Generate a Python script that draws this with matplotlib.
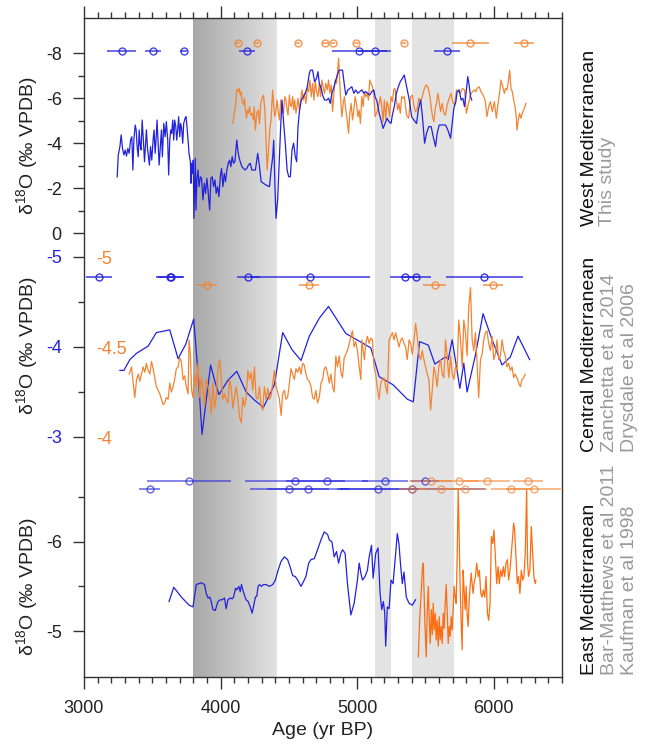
import numpy as np
import matplotlib
matplotlib.use("Agg")
import matplotlib.pyplot as plt
from matplotlib.colors import LinearSegmentedColormap
from matplotlib.ticker import MultipleLocator, FixedLocator, FuncFormatter

plt.rcParams['font.family'] = ['Liberation Sans', 'DejaVu Sans']
plt.rcParams['mathtext.fontset'] = 'custom'
plt.rcParams['mathtext.rm'] = 'Liberation Sans'
plt.rcParams['mathtext.it'] = 'Liberation Sans:italic'
plt.rcParams['axes.unicode_minus'] = False

# ---------------- data (age yr BP, d18O) ----------------
west_blue = [
 (3243,-2.50),(3251,-3.47),(3263,-3.84),(3272,-4.36),(3282,-3.76),(3292,-3.47),(3302,-3.69),(3311,-3.42),
 (3321,-3.76),(3331,-3.54),(3341,-4.13),(3350,-4.28),(3358,-2.80),(3365,-4.13),(3375,-4.80),(3382,-4.58),
 (3389,-3.84),(3397,-3.39),(3404,-4.58),(3411,-3.91),(3418,-3.69),(3426,-5.02),(3436,-3.99),(3443,-3.17),
 (3450,-3.84),(3457,-4.58),(3465,-3.76),(3472,-3.39),(3479,-3.02),(3487,-3.84),(3496,-3.24),(3506,-4.13),
 (3513,-4.58),(3521,-3.54),(3528,-4.21),(3535,-5.02),(3543,-3.99),(3550,-3.02),(3557,-3.69),(3567,-4.58),
 (3574,-3.39),(3584,-4.87),(3594,-4.28),(3603,-4.95),(3613,-4.13),(3620,-2.58),(3628,-4.13),(3635,-4.58),
 (3642,-4.43),(3650,-5.02),(3657,-4.13),(3664,-5.02),(3672,-4.73),(3679,-4.13),(3686,-4.58),(3693,-5.17),
 (3701,-4.28),(3708,-4.87),(3715,-4.65),(3723,-3.99),(3730,-4.87),(3740,-5.10),(3747,-5.17),(3754,-4.73),
 (3762,-4.13),(3769,-3.54),(3779,-3.17),(3783,-2.21),(3788,-3.10),(3796,-2.65),(3800,-3.24),(3805,-0.65),
 (3810,-2.06),(3815,-3.32),(3820,-1.02),(3827,-2.43),(3835,-2.80),(3842,-2.06),(3852,-2.50),(3861,-2.43),
 (3871,-1.47),(3881,-2.21),(3890,-1.76),(3900,-2.43),(3908,-1.91),(3920,-1.02),(3929,-2.43),(3939,-2.50),
 (3949,-2.06),(3959,-2.36),(3968,-1.76),(3978,-2.06),(3988,-1.62),(3998,-2.50),(4007,-2.87),(4017,-2.06),
 (4027,-2.65),(4036,-2.28),(4046,-2.80),(4056,-3.10),(4066,-3.24),(4075,-2.95),(4085,-3.39),(4095,-3.10),
 (4105,-3.17),(4114,-3.84),(4119,-4.13),(4126,-3.69),(4134,-3.39),(4144,-3.17),(4156,-2.95),(4168,-2.87),
 (4180,-2.80),(4192,-2.87),(4204,-3.02),(4217,-3.10),(4229,-2.80),(4241,-2.80),(4255,-2.80),(4272,-3.54),
 (4285,-2.95),(4297,-2.28),(4314,-2.21),(4333,-2.13),(4358,-2.06),(4370,-2.80),(4382,-3.39),(4389,-4.13),
 (4399,-1.91),(4406,-0.65),(4418,-1.47),(4431,-3.39),(4440,-4.73),(4450,-5.91),(4462,-4.87),(4474,-3.99),
 (4487,-2.80),(4499,-2.50),(4511,-2.50),(4523,-3.69),(4535,-3.99),(4547,-3.39),(4557,-3.17),(4567,-4.73),
 (4577,-5.39),(4591,-5.91),(4606,-6.06),(4620,-6.21),(4635,-6.50),(4650,-7.10),(4659,-7.24),(4674,-7.24),
 (4688,-6.73),(4703,-6.87),(4713,-7.17),(4723,-6.65),(4737,-6.43),(4747,-6.13),(4761,-5.91),(4776,-5.91),
 (4791,-5.99),(4803,-5.76),(4815,-6.21),(4827,-6.43),(4844,-6.80),(4859,-7.10),(4869,-7.24),(4893,-7.24),
 (4905,-6.65),(4917,-6.13),(4932,-6.36),(4946,-6.43),(4961,-6.50),(4976,-6.21),(4990,-6.36),(5005,-6.21),
 (5019,-6.28),(5034,-6.36),(5049,-6.21),(5063,-6.28),(5078,-6.21),(5092,-6.13),(5107,-6.28),(5122,-6.36),
 (5131,-6.06),(5146,-5.84),(5161,-5.32),(5175,-5.02),(5190,-4.65),(5204,-4.87),(5219,-5.10),(5233,-4.95),
 (5248,-4.87),(5258,-5.24),(5272,-5.62),(5287,-6.21),(5302,-6.50),(5316,-6.73),(5331,-6.87),(5345,-7.02),
 (5382,-5.91),(5399,-5.17),(5416,-5.02),(5435,-4.87),(5448,-5.47),(5465,-5.91),(5477,-5.24),(5494,-3.99),
 (5508,-4.43),(5525,-4.73),(5542,-4.73),(5557,-4.28),(5574,-3.84),(5586,-4.43),(5601,-4.80),(5623,-4.80),
 (5647,-4.80),(5664,-4.58),(5684,-4.21),(5696,-4.87),(5708,-5.54),(5723,-5.84),(5732,-6.28),(5747,-6.36),
 (5761,-5.91),(5774,-5.99),(5786,-5.62),(5796,-6.13),(5810,-6.95),(5820,-6.58),(5830,-6.06),(5839,-5.91)]

west_orange = [
 (4090,-4.87),(4100,-5.32),(4109,-5.62),(4119,-6.39),(4126,-6.28),(4136,-6.43),(4144,-6.13),(4151,-6.28),
 (4158,-5.84),(4168,-5.69),(4175,-5.99),(4182,-5.47),(4190,-5.10),(4197,-5.47),(4204,-5.32),(4212,-5.62),
 (4221,-5.24),(4231,-5.32),(4241,-5.02),(4246,-5.62),(4255,-4.58),(4265,-5.32),(4275,-5.47),(4285,-4.87),
 (4294,-5.76),(4304,-5.99),(4314,-6.13),(4324,-5.47),(4333,-4.13),(4341,-2.80),(4348,-3.39),(4355,-4.13),
 (4362,-4.73),(4370,-5.02),(4377,-5.91),(4382,-6.36),(4389,-5.62),(4397,-5.17),(4406,-5.47),(4414,-5.91),
 (4423,-5.32),(4431,-5.02),(4440,-5.91),(4450,-5.47),(4460,-5.32),(4470,-6.06),(4479,-5.91),(4487,-5.47),
 (4494,-5.24),(4504,-6.13),(4511,-5.69),(4518,-5.62),(4528,-6.06),(4535,-5.47),(4543,-5.91),(4552,-5.32),
 (4560,-5.62),(4567,-5.99),(4577,-5.47),(4586,-5.91),(4596,-6.36),(4606,-5.91),(4615,-6.21),(4625,-5.76),
 (4635,-6.43),(4645,-6.28),(4654,-6.80),(4664,-6.06),(4674,-6.65),(4684,-5.91),(4693,-6.80),(4703,-6.28),
 (4713,-6.06),(4723,-6.65),(4732,-6.06),(4742,-6.80),(4752,-6.43),(4761,-6.21),(4771,-6.65),(4781,-6.36),
 (4791,-6.80),(4800,-6.21),(4810,-6.58),(4820,-5.39),(4830,-6.21),(4839,-6.80),(4849,-6.65),(4856,-7.10),
 (4864,-7.76),(4871,-6.87),(4878,-6.06),(4888,-5.17),(4898,-5.76),(4907,-6.06),(4917,-5.47),(4927,-5.02),
 (4937,-4.43),(4946,-5.32),(4956,-5.76),(4966,-5.02),(4976,-5.47),(4985,-6.06),(4995,-5.76),(5005,-5.17),
 (5014,-5.47),(5024,-4.87),(5034,-6.06),(5044,-5.62),(5053,-6.28),(5063,-6.06),(5073,-6.21),(5083,-5.91),
 (5092,-6.80),(5102,-6.65),(5112,-6.50),(5122,-6.21),(5131,-5.17),(5141,-5.32),(5151,-5.47),(5161,-5.76),
 (5170,-6.06),(5180,-5.62),(5190,-4.95),(5199,-5.91),(5209,-5.06),(5219,-5.84),(5229,-5.62),(5238,-5.17),
 (5248,-6.06),(5258,-5.84),(5268,-6.36),(5277,-6.43),(5287,-5.91),(5297,-5.47),(5306,-5.76),(5316,-5.32),
 (5326,-6.06),(5336,-5.99),(5345,-6.06),(5362,-5.24),(5377,-5.10),(5392,-6.06),(5404,-6.13),(5416,-5.62),
 (5428,-5.39),(5440,-5.54),(5452,-5.99),(5465,-5.84),(5477,-6.06),(5489,-6.36),(5504,-6.58),(5518,-6.50),
 (5533,-6.06),(5543,-5.54),(5552,-5.17),(5562,-4.95),(5572,-5.54),(5581,-5.76),(5591,-6.21),(5601,-5.84),
 (5611,-5.39),(5623,-5.76),(5635,-5.32),(5647,-5.24),(5659,-5.69),(5674,-5.99),(5688,-6.21),(5698,-5.84),
 (5713,-5.69),(5727,-6.36),(5742,-6.28),(5757,-6.21),(5771,-6.43),(5786,-6.36),(5800,-5.32),(5815,-5.76),
 (5830,-6.13),(5844,-6.28),(5859,-6.36),(5869,-6.28),(5878,-6.43),(5893,-6.50),(5907,-6.28),(5922,-6.13),
 (5937,-5.91),(5951,-5.17),(5963,-5.62),(5976,-5.84),(5990,-5.39),(6005,-5.84),(6019,-5.10),(6029,-5.62),
 (6044,-6.28),(6053,-6.80),(6063,-6.58),(6078,-6.21),(6087,-6.43),(6097,-6.36),(6107,-6.73),(6117,-7.24),
 (6126,-6.43),(6136,-6.28),(6146,-5.91),(6156,-5.62),(6165,-5.17),(6170,-4.58),(6180,-5.02),(6190,-5.32),
 (6199,-5.10),(6209,-5.32),(6219,-5.47),(6229,-5.62),(6236,-5.76)]

central_blue = [
 (3263,-3.74),(3292,-3.74),(3336,-3.86),(3385,-3.93),(3470,-4.01),(3530,-4.16),(3628,-4.19),(3689,-3.87),
 (3745,-4.03),(3803,-4.31),(3835,-3.71),(3864,-3.03),(3895,-3.41),(3927,-3.80),(3956,-3.63),(3988,-3.47),
 (4054,-3.63),(4119,-3.73),(4187,-3.50),(4248,-3.41),(4314,-3.33),(4394,-3.58),(4455,-4.16),(4523,-3.97),
 (4589,-3.85),(4650,-4.12),(4723,-4.32),(4790,-4.45),(4917,-4.15),(5100,-3.99),(5161,-3.67),(5263,-3.58),
 (5367,-3.42),(5411,-3.39),(5457,-4.06),(5521,-4.02),(5569,-3.81),(5647,-3.89),(5667,-3.86),(5696,-4.08),
 (5752,-3.54),(5781,-3.82),(5805,-3.50),(5866,-3.91),(5922,-4.37),(5988,-4.08),(6061,-3.80),(6122,-3.89),
 (6178,-4.12),(6263,-3.86)]

central_orange = [
 (3331,-4.35),(3348,-4.39),(3360,-4.30),(3372,-4.22),(3385,-4.32),(3397,-4.35),(3409,-4.31),(3421,-4.35),
 (3433,-4.39),(3445,-4.36),(3457,-4.41),(3470,-4.37),(3482,-4.35),(3494,-4.42),(3506,-4.38),(3518,-4.33),
 (3530,-4.28),(3543,-4.26),(3555,-4.24),(3567,-4.21),(3579,-4.18),(3591,-4.19),(3603,-4.22),(3616,-4.21),
 (3628,-4.30),(3640,-4.25),(3652,-4.28),(3664,-4.32),(3676,-4.38),(3689,-4.39),(3701,-4.44),(3713,-4.42),
 (3725,-4.32),(3737,-4.34),(3749,-4.28),(3762,-4.24),(3769,-4.54),(3779,-4.46),(3788,-4.26),(3798,-4.22),
 (3810,-4.35),(3822,-4.28),(3835,-4.41),(3847,-4.22),(3859,-4.33),(3871,-4.27),(3883,-4.17),(3895,-4.32),
 (3908,-4.28),(3920,-4.22),(3932,-4.13),(3944,-4.30),(3956,-4.16),(3968,-4.22),(3981,-4.38),(3993,-4.43),
 (4005,-4.32),(4017,-4.21),(4029,-4.24),(4041,-4.21),(4054,-4.19),(4066,-4.32),(4078,-4.27),(4090,-4.16),
 (4102,-4.22),(4114,-4.28),(4127,-4.21),(4139,-4.11),(4151,-4.08),(4163,-4.22),(4175,-4.17),(4187,-4.22),
 (4200,-4.37),(4212,-4.32),(4224,-4.36),(4236,-4.26),(4248,-4.39),(4260,-4.22),(4273,-4.21),(4285,-4.28),
 (4297,-4.17),(4309,-4.15),(4321,-4.28),(4333,-4.21),(4346,-4.27),(4358,-4.21),(4370,-4.23),(4382,-4.30),
 (4394,-4.37),(4406,-4.28),(4418,-4.25),(4431,-4.21),(4443,-4.12),(4455,-4.24),(4467,-4.26),(4479,-4.21),
 (4491,-4.22),(4504,-4.30),(4516,-4.38),(4528,-4.35),(4540,-4.32),(4552,-4.38),(4565,-4.36),(4577,-4.39),
 (4589,-4.35),(4601,-4.41),(4613,-4.40),(4625,-4.35),(4637,-4.32),(4650,-4.31),(4662,-4.28),(4674,-4.22),
 (4686,-4.21),(4698,-4.26),(4710,-4.19),(4723,-4.22),(4735,-4.30),(4747,-4.32),(4759,-4.38),(4771,-4.39),
 (4784,-4.35),(4796,-4.30),(4808,-4.35),(4820,-4.28),(4832,-4.25),(4844,-4.45),(4856,-4.39),(4869,-4.45),
 (4881,-4.36),(4893,-4.33),(4905,-4.44),(4917,-4.46),(4929,-4.48),(4942,-4.52),(4954,-4.56),(4966,-4.59),
 (4978,-4.50),(4990,-4.53),(5002,-4.48),(5015,-4.39),(5027,-4.32),(5034,-4.54),(5044,-4.48),(5053,-4.43),
 (5063,-4.52),(5075,-4.56),(5088,-4.52),(5100,-4.55),(5112,-4.54),(5124,-4.39),(5136,-4.35),(5148,-4.27),
 (5161,-4.21),(5173,-4.30),(5185,-4.32),(5197,-4.33),(5209,-4.28),(5221,-4.24),(5234,-4.54),(5246,-4.56),
 (5258,-4.58),(5270,-4.54),(5282,-4.58),(5294,-4.54),(5306,-4.50),(5319,-4.54),(5331,-4.55),(5343,-4.52),
 (5355,-4.50),(5367,-4.43),(5380,-4.54),(5392,-4.52),(5404,-4.46),(5416,-4.54),(5428,-4.63),(5440,-4.56),
 (5452,-4.46),(5465,-4.43),(5477,-4.48),(5489,-4.43),(5501,-4.39),(5513,-4.35),(5525,-4.32),(5538,-4.15),
 (5550,-4.26),(5562,-4.39),(5574,-4.35),(5586,-4.28),(5598,-4.39),(5611,-4.43),(5623,-4.35),(5635,-4.33),
 (5647,-4.54),(5659,-4.45),(5671,-4.33),(5684,-4.45),(5696,-4.35),(5708,-4.32),(5720,-4.39),(5732,-4.37),
 (5744,-4.65),(5757,-4.54),(5769,-4.39),(5781,-4.65),(5793,-4.58),(5805,-4.45),(5817,-4.72),(5830,-4.83),
 (5842,-4.54),(5854,-4.48),(5866,-4.58),(5878,-4.41),(5890,-4.22),(5903,-4.43),(5915,-4.46),(5927,-4.54),
 (5939,-4.58),(5951,-4.59),(5963,-4.52),(5976,-4.48),(5988,-4.56),(6000,-4.43),(6012,-4.46),(6024,-4.54),
 (6036,-4.43),(6049,-4.45),(6061,-4.54),(6073,-4.48),(6085,-4.45),(6097,-4.39),(6109,-4.41),(6122,-4.37),
 (6134,-4.39),(6146,-4.33),(6158,-4.35),(6170,-4.33),(6183,-4.30),(6195,-4.28),(6207,-4.32),(6219,-4.33),
 (6231,-4.35)]

east_blue = [
 (3623,-5.33),(3657,-5.49),(3713,-5.38),(3769,-5.29),(3798,-5.27),(3822,-5.52),(3859,-5.54),(3883,-5.52),
 (3895,-5.42),(3908,-5.37),(3920,-5.38),(3932,-5.33),(3944,-5.24),(3961,-5.23),(3981,-5.33),(3998,-5.35),
 (4012,-5.35),(4029,-5.37),(4041,-5.25),(4054,-5.35),(4071,-5.37),(4085,-5.36),(4095,-5.38),(4110,-5.48),
 (4119,-5.46),(4134,-5.50),(4144,-5.44),(4153,-5.52),(4163,-5.46),(4175,-5.40),(4187,-5.35),(4202,-5.33),
 (4217,-5.27),(4231,-5.20),(4246,-5.31),(4255,-5.38),(4265,-5.39),(4275,-5.50),(4285,-5.52),(4299,-5.50),
 (4314,-5.52),(4333,-5.52),(4358,-5.50),(4382,-5.52),(4401,-5.57),(4421,-5.68),(4443,-5.78),(4467,-5.83),
 (4491,-5.80),(4509,-5.72),(4528,-5.62),(4547,-5.61),(4565,-5.57),(4589,-5.50),(4606,-5.55),(4625,-5.61),
 (4645,-5.76),(4662,-5.80),(4686,-5.81),(4710,-5.91),(4735,-6.02),(4759,-6.11),(4784,-6.08),(4796,-6.02),
 (4815,-6.00),(4832,-5.83),(4849,-5.89),(4864,-5.76),(4881,-5.87),(4893,-5.91),(4912,-5.87),(4929,-5.53),
 (4954,-5.18),(4978,-5.31),(5002,-5.57),(5015,-5.76),(5027,-5.65),(5039,-5.57),(5058,-5.61),(5075,-5.68),
 (5088,-5.83),(5105,-5.96),(5117,-5.59),(5136,-5.87),(5153,-5.93),(5168,-5.42),(5180,-5.24),(5192,-5.33),
 (5202,-5.20),(5209,-4.83),(5221,-5.27),(5234,-5.25),(5248,-5.57),(5263,-5.53),(5282,-5.87),(5294,-6.09),
 (5306,-5.98),(5319,-5.72),(5331,-5.53),(5343,-5.66),(5360,-5.38),(5380,-5.31),(5404,-5.29),(5428,-5.35)]

east_orange = [
 (5448,-4.71),(5457,-5.09),(5467,-5.38),(5477,-5.68),(5484,-5.76),(5491,-5.38),(5496,-5.09),(5506,-4.71),
 (5513,-5.20),(5521,-5.50),(5528,-5.12),(5535,-4.86),(5543,-5.24),(5550,-4.96),(5557,-5.31),(5564,-5.01),
 (5572,-5.20),(5579,-4.90),(5586,-5.12),(5594,-4.83),(5601,-5.16),(5608,-4.90),(5616,-5.05),(5623,-4.86),
 (5630,-5.20),(5637,-5.03),(5645,-5.31),(5652,-5.52),(5659,-5.24),(5667,-4.86),(5674,-5.05),(5681,-4.94),
 (5689,-5.16),(5696,-5.01),(5703,-5.24),(5710,-5.50),(5718,-5.38),(5725,-5.31),(5732,-5.80),(5740,-6.58),
 (5747,-6.06),(5754,-5.50),(5761,-5.12),(5769,-4.79),(5776,-5.68),(5783,-5.46),(5791,-5.24),(5798,-5.50),
 (5805,-5.20),(5813,-5.05),(5820,-5.33),(5827,-5.50),(5835,-5.65),(5842,-5.53),(5849,-5.42),(5856,-5.53),
 (5866,-5.61),(5876,-5.76),(5886,-5.61),(5895,-5.68),(5905,-5.42),(5915,-5.38),(5924,-5.46),(5934,-5.38),
 (5944,-5.61),(5954,-5.20),(5963,-5.12),(5973,-5.31),(5983,-6.06),(5993,-5.98),(6002,-6.13),(6012,-5.83),
 (6022,-5.53),(6032,-5.72),(6041,-5.53),(6051,-5.68),(6061,-5.61),(6070,-5.72),(6080,-5.61),(6090,-5.76),
 (6100,-5.80),(6109,-5.57),(6119,-5.68),(6129,-5.87),(6139,-6.06),(6146,-6.21),(6153,-6.13),(6163,-5.83),
 (6173,-5.53),(6182,-5.61),(6192,-5.42),(6202,-5.68),(6212,-5.57),(6221,-5.61),(6231,-5.87),(6241,-6.58),
 (6248,-5.76),(6255,-5.61),(6265,-5.68),(6275,-6.17),(6284,-5.91),(6294,-5.61),(6304,-5.53),(6309,-5.57)]

# dating points: ages and 2-sigma half widths
west_blue_dates = [3275, 3506, 3730, 4192, 5015, 5129, 5659]
west_blue_err = [107, 56, 27, 57, 200, 120, 97]
west_orange_dates = [4124, 4270, 4569, 4765, 4820, 4995, 5343, 5827, 6219]
west_orange_err = [15, 15, 15, 25, 15, 15, 15, 135, 73]
central_blue_dates = [3109, 3628, 3638, 4204, 4655, 5348, 5433, 5932]
central_blue_err = [94, 100, 95, 85, 440, 105, 110, 283]
central_orange_dates = [3900, 4650, 5567, 5997]
central_orange_err = [73, 73, 85, 73]
east_blue_dates1 = [3769, 4547, 4778, 5204, 5496]
east_blue_err1 = [305, 365, 300, 170, 100]
east_orange_dates1 = [5538, 5745, 5951, 6248]
east_orange_err1 = [160, 150, 170, 110]
east_blue_dates2 = [3482, 4504, 4638, 5156, 5404]
east_blue_err2 = [78, 290, 300, 300, 530]
east_orange_dates2 = [5404, 5617, 5793, 6129, 6292]
east_orange_err2 = [100, 150, 160, 150, 200]

events_dark = (3800, 4410)
events_light = [(5130, 5250), (5400, 5710)]

# ---------------- styling ----------------
BLUE = '#2222dd'
ORANGE = '#f28433'
ORANGE_E = '#fb6e12'
GRAY_TXT = '#9a9a9a'
W, H = 651, 746
L, R = 84 / W, 562 / W

def fy(px):
    return 1 - px / H

fig = plt.figure(figsize=(W / 100, H / 100), dpi=100)

frame = fig.add_axes([L, fy(677), R - L, (677 - 18) / H])
frame.set_xlim(3000, 6500)
frame.set_ylim(0, 1)
frame.set_yticks([])
for s in frame.spines.values():
    s.set_linewidth(1.0)
    s.set_color('#333333')
frame.xaxis.set_major_locator(MultipleLocator(1000))
frame.xaxis.set_minor_locator(MultipleLocator(100))
frame.tick_params(axis='x', which='both', top=True, bottom=True, direction='out', colors='#333333', labelsize=13,
                  labelcolor='#222222')
frame.tick_params(axis='x', which='major', length=8.5, width=1, pad=8)
frame.tick_params(axis='x', which='minor', length=4, width=1)
frame.set_xlabel('Age (yr BP)', fontsize=14, labelpad=4, color='#222222')

cmap = LinearSegmentedColormap.from_list('g', ['#a8a8a8', '#e2e2e2'])
frame.imshow(np.linspace(0, 1, 256).reshape(1, -1), extent=[events_dark[0], events_dark[1], 0, 1],
             cmap=cmap, aspect='auto', zorder=0, interpolation='bilinear')
for a, b in events_light:
    frame.axvspan(a, b, color='#e3e3e3', lw=0, zorder=0)
frame.set_xlim(3000, 6500)
frame.set_ylim(0, 1)

def panel(top_px, bot_px, ylim):
    ax = fig.add_axes([L, fy(bot_px), R - L, (bot_px - top_px) / H])
    ax.patch.set_visible(False)
    for s in ax.spines.values():
        s.set_visible(False)
    ax.set_xlim(3000, 6500)
    ax.set_xticks([])
    ax.set_ylim(*ylim)
    ax.tick_params(axis='y', which='both', direction='out', colors='#333333', labelsize=13, labelcolor='#222222')
    ax.tick_params(axis='y', which='major', length=8, width=1, pad=8)
    ax.tick_params(axis='y', which='minor', length=4.5, width=1)
    return ax

fmt = FuncFormatter(lambda v, p: '%g' % v)

def dates(ax, ages, errs, level, color, alpha=1.0):
    ax.errorbar(ages, [level] * len(ages), xerr=errs, fmt='o', ms=5, mfc='none', mec=color, mew=1.0,
                ecolor=color, elinewidth=1.1, capsize=0, alpha=alpha, zorder=5)

# West
p1 = panel(18, 245, (0.533, -9.556))
p1.yaxis.set_major_locator(FixedLocator([-8, -6, -4, -2, 0]))
p1.yaxis.set_minor_locator(FixedLocator([-7, -5, -3, -1]))
p1.yaxis.set_major_formatter(fmt)
wb = np.array(west_blue); wo = np.array(west_orange)
p1.plot(wo[:, 0], wo[:, 1], color=ORANGE, lw=0.9)
p1.plot(wb[:, 0], wb[:, 1], color=BLUE, lw=0.9)
dates(p1, west_blue_dates, west_blue_err, -8.09, BLUE, 0.85)
dates(p1, west_orange_dates, west_orange_err, -8.43, ORANGE, 0.85)

# Central
p2 = panel(245, 470, (-2.633, -5.133))
p2.yaxis.set_major_locator(FixedLocator([-5, -4, -3]))
p2.yaxis.set_minor_locator(FixedLocator([-4.5, -3.5]))
p2.yaxis.set_major_formatter(fmt)
p2.tick_params(axis='y', labelcolor=BLUE)
p2b = fig.add_axes(p2.get_position(), sharex=p2)
p2b.patch.set_visible(False)
for s in p2b.spines.values():
    s.set_visible(False)
p2b.set_ylim(-3.817, -5.067)
p2b.yaxis.set_major_locator(FixedLocator([-5, -4.5, -4]))
p2b.yaxis.set_major_formatter(fmt)
p2b.tick_params(axis='y', which='both', length=0, pad=-9, labelsize=13, labelcolor=ORANGE)
p2b.tick_params(axis='x', bottom=False, labelbottom=False)
for lab in p2b.get_yticklabels():
    lab.set_horizontalalignment('left')
cb = np.array(central_blue); co = np.array(central_orange)
p2b.plot(co[:, 0], co[:, 1], color=ORANGE, lw=0.9)
p2.plot(cb[:, 0], cb[:, 1], color=BLUE, lw=0.9, zorder=3)
dates(p2, central_blue_dates, central_blue_err, -4.774, BLUE, 0.9)
dates(p2b, central_orange_dates, central_orange_err, -4.844, ORANGE, 0.85)

# East
p3 = panel(470, 677, (-4.485, -6.803))
p3.yaxis.set_major_locator(FixedLocator([-6, -5]))
p3.yaxis.set_minor_locator(FixedLocator([-6.5, -5.5]))
p3.yaxis.set_major_formatter(fmt)
eb = np.array(east_blue); eo = np.array(east_orange)
p3.plot(eo[:, 0], eo[:, 1], color=ORANGE_E, lw=0.9)
p3.plot(eb[:, 0], eb[:, 1], color=BLUE, lw=0.9)
dates(p3, east_blue_dates1, east_blue_err1, -6.68, BLUE, 0.7)
dates(p3, east_orange_dates1, east_orange_err1, -6.68, ORANGE, 0.7)
dates(p3, east_blue_dates2, east_blue_err2, -6.594, BLUE, 0.7)
dates(p3, east_orange_dates2, east_orange_err2, -6.594, ORANGE, 0.7)

ylab = r'δ$^{\mathrm{18}}$O (‰ VPDB)'
for yc in (145, 345, 586):
    fig.text(27 / W, fy(yc), ylab, rotation=90, ha='center', va='center', fontsize=14, color='#222222')

def side(xpx, ypx, s, color):
    fig.text(xpx / W, fy(ypx), s, rotation=90, rotation_mode='anchor', ha='left', va='center',
             fontsize=14, color=color)

side(590, 226, 'West Mediterranean', '#111111')
side(608, 226, 'This study', GRAY_TXT)
side(590, 452, 'Central Mediterranean', '#111111')
side(609, 452, 'Zanchetta et al 2014', GRAY_TXT)
side(629, 452, 'Drysdale et al 2006', GRAY_TXT)
side(590, 675, 'East Mediterranean', '#111111')
side(609, 675, 'Bar-Matthews et al 2011', GRAY_TXT)
side(629, 675, 'Kaufman et al 1998', GRAY_TXT)

fig.savefig('out.png', dpi=100)
